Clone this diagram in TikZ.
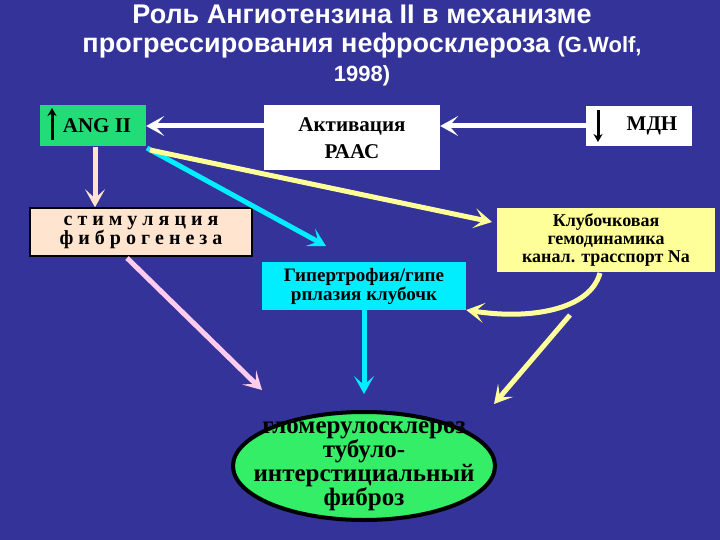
\documentclass[tikz,border=0pt]{standalone}
\usepackage{fontspec}
\setmainfont{Liberation Serif}
\newfontfamily\tsans{Liberation Sans}
\usetikzlibrary{arrows.meta,shapes.geometric}
\definecolor{bg}{HTML}{333399}
\definecolor{gr}{HTML}{22DD77}
\definecolor{ygl}{HTML}{FFFF99}
\definecolor{cy}{HTML}{00EEFF}
\definecolor{pk}{HTML}{FFCCEE}
\definecolor{bei}{HTML}{FFE4D0}
\definecolor{yar}{HTML}{FFFF99}
\definecolor{elg}{HTML}{33EE66}
\tikzset{
 box/.style={inner sep=2pt,font=\bfseries\fontsize{21}{21}\selectfont,align=center,text=black},
 arr/.style={line width=5pt,-{Stealth[length=18pt,width=20pt,inset=9pt]}},
}
\begin{document}
\begin{tikzpicture}[x=1pt,y=-1pt]
\fill[bg] (0,0) rectangle (720,540);
\useasboundingbox (0,0) rectangle (720,540);
\node[white,font=\tsans\bfseries\fontsize{27}{29}\selectfont,align=center] (title) at (362,45) {Роль Ангиотензина II в механизме\\прогрессирования нефросклероза {\fontsize{22}{24}\selectfont(G.Wolf,}\\{\fontsize{22}{24}\selectfont 1998)}};
\node[box,fill=gr,minimum width=106pt,minimum height=41pt] (ang) at (93,126) {\hspace*{8pt}ANG II};
\draw[line width=3pt,-{Stealth[length=8pt,width=9pt]}] (52,140) -- (52,108);
\node[box,fill=white,minimum width=176pt,minimum height=65pt] (raas) at (352,138) {Активация\\[6pt]РААС};
\node[box,fill=white,minimum width=106pt,minimum height=40pt] (mdn) at (639,126) {\hspace*{26pt}МДН};
\draw[line width=3pt,-{Stealth[length=8pt,width=9pt]}] (598,110) -- (598,142);
\node[box,fill=bei,draw=black,line width=1.5pt,minimum width=222pt,minimum height=48pt,font=\bfseries\fontsize{20}{19}\selectfont] (stim) at (141,232) {с т и м у л я ц и я\\ф и б р о г е н е з а};
\node[box,fill=cy,minimum width=204pt,minimum height=48pt,font=\bfseries\fontsize{19}{19}\selectfont] (hyp) at (364,286) {Гипертрофия/гипе\\рплазия клубочк};
\node[box,fill=ygl,minimum width=218pt,minimum height=64pt,font=\bfseries\fontsize{18}{18}\selectfont] (glom) at (606,240) {Клубочковая\\гемодинамика\\канал. трасспорт Na};
\node[ellipse,fill=elg,draw=black,line width=4pt,minimum width=262pt,minimum height=108pt] (ell) at (364,466) {};
\node[font=\bfseries\fontsize{25}{21}\selectfont,align=center,inner sep=0pt] (elltext) at (ell.center) {гломерулосклероз\\тубуло-\\интерстициальный\\фиброз};
\draw[arr,white] (raas.west|-ang.east) -- (ang.east);
\draw[arr,white] (mdn.west) -- (raas.east|-mdn.west);
\draw[arr,bei] (95,147) -- (stim.north-|95,0);
\draw[arr,cy] (147,148) -- (326,246);
\draw[arr,yar] (150,150) -- (492,222);
\draw[arr,pk] (127,258) -- (262,390);
\draw[arr,cy] (hyp.south) -- (364,394);
\draw[arr,yar] (600,273) .. controls (590,310) and (530,320) .. (hyp.east|-0,310);
\draw[arr,yar] (570,315) -- (494,404);
\end{tikzpicture}
\end{document}
